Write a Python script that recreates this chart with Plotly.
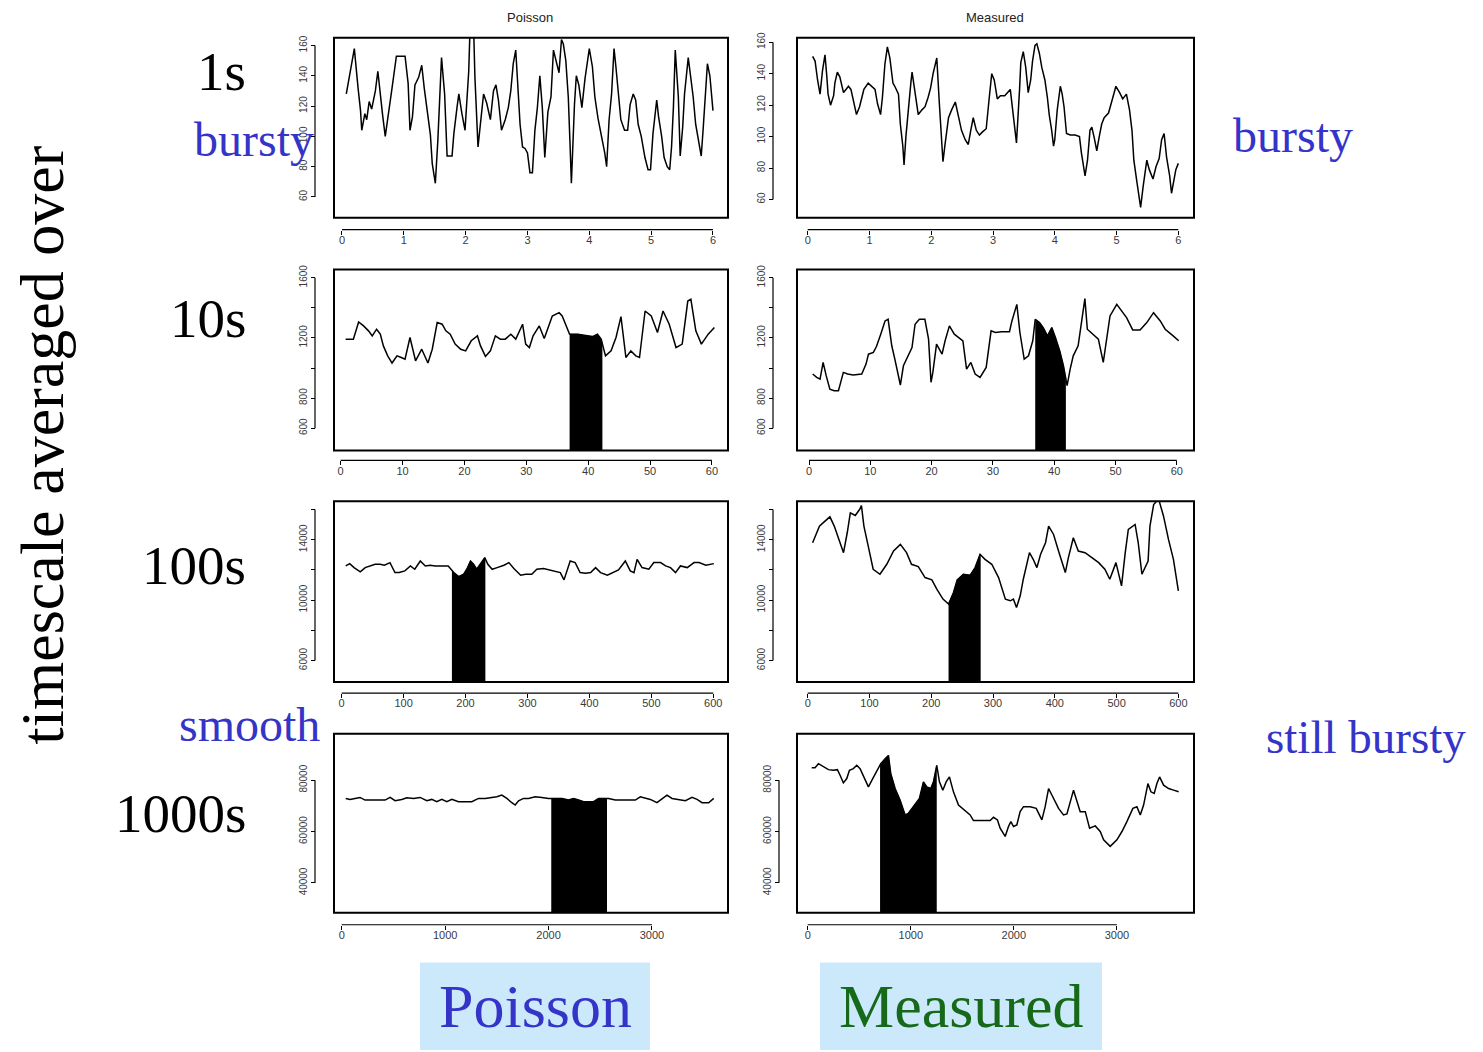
import numpy as np
import plotly.graph_objects as go

# ---------------- data ----------------
# Poisson, 1 s averages
p1_t = [0.07,0.11,0.16,0.20,0.26,0.30,0.32,0.37,0.40,0.44,
        0.48,0.54,0.58,0.62,0.66,0.70,0.74,0.81,0.88,1.02,
        1.07,1.10,1.14,1.18,1.24,1.29,1.33,1.38,1.43,1.46,
        1.51,1.55,1.60,1.61,1.66,1.70,1.78,1.81,1.86,1.89,
        1.94,1.99,2.05,2.07,2.13,2.15,2.20,2.23,2.29,2.34,
        2.40,2.45,2.49,2.53,2.58,2.64,2.69,2.73,2.77,2.81,
        2.84,2.88,2.92,2.96,3.00,3.04,3.08,3.12,3.16,3.20,
        3.24,3.28,3.33,3.38,3.42,3.46,3.51,3.55,3.58,3.62,
        3.66,3.69,3.71,3.76,3.79,3.83,3.88,3.93,3.97,4.00,
        4.05,4.09,4.14,4.20,4.25,4.28,4.32,4.36,4.40,4.43,
        4.47,4.51,4.57,4.62,4.66,4.71,4.75,4.79,4.84,4.90,
        4.95,4.99,5.03,5.09,5.12,5.17,5.21,5.26,5.30,5.33,
        5.36,5.39,5.44,5.47,5.51,5.54,5.60,5.64,5.68,5.72,
        5.77,5.81,5.84,5.87,5.91,5.95,6.00]
p1_v = [128,137,148,158,132,117,104,115,111,123,
        118,130,143,127,113,100,111,132,153,153,
        135,104,113,134,139,147,132,117,101,82,
        69,97,139,152,128,87,87,102,119,128,
        115,104,143,170,170,139,93,104,128,122,
        111,130,134,124,104,111,119,130,148,157,
        139,108,93,92,89,76,76,104,119,140,
        119,86,116,126,157,151,142,164,161,150,
        126,93,69,121,140,134,119,138,150,158,
        146,126,112,100,89,80,111,128,158,146,
        130,111,104,104,121,128,124,108,100,86,
        78,78,102,124,113,100,86,80,78,93,
        119,157,126,87,106,128,152,139,126,108,
        97,87,104,124,148,140,117]

# Measured, 1 s averages
m1_t = [0.08,0.12,0.16,0.20,0.24,0.28,0.31,0.33,0.37,0.42,
        0.44,0.48,0.52,0.58,0.62,0.66,0.70,0.74,0.79,0.84,
        0.88,0.91,0.98,1.04,1.09,1.13,1.18,1.21,1.25,1.29,
        1.33,1.38,1.41,1.47,1.50,1.54,1.56,1.59,1.63,1.67,
        1.69,1.74,1.79,1.85,1.90,1.95,1.99,2.03,2.09,2.13,
        2.16,2.19,2.22,2.28,2.33,2.39,2.44,2.49,2.55,2.60,
        2.64,2.68,2.73,2.78,2.83,2.89,2.94,2.98,3.02,3.07,
        3.12,3.19,3.28,3.32,3.36,3.38,3.43,3.45,3.49,3.53,
        3.57,3.61,3.64,3.68,3.71,3.75,3.79,3.84,3.88,3.91,
        3.95,3.98,4.00,4.04,4.09,4.12,4.15,4.19,4.25,4.33,
        4.40,4.43,4.49,4.53,4.57,4.60,4.64,4.68,4.72,4.76,
        4.80,4.87,4.92,4.99,5.05,5.10,5.16,5.21,5.25,5.28,
        5.33,5.37,5.39,5.43,5.49,5.53,5.59,5.64,5.69,5.73,
        5.77,5.81,5.86,5.89,5.92,5.96,6.00]
m1_v = [151,148,136,127,142,152,138,127,120,126,
        134,141,138,128,130,132,130,122,114,119,
        125,130,134,132,130,121,114,125,146,157,
        150,134,132,127,108,94,82,100,119,134,
        141,127,114,117,119,125,131,140,150,122,
        102,84,94,112,117,122,113,104,98,95,
        104,112,104,101,103,105,125,140,136,124,
        126,126,130,115,100,96,130,147,154,144,
        128,136,148,158,159,153,144,136,125,114,
        104,94,98,117,132,127,119,102,101,101,
        100,90,75,85,104,106,99,91,100,108,
        112,115,122,132,128,124,127,117,104,85,
        71,60,55,68,85,79,73,81,86,98,
        102,87,75,64,71,79,83]

# Poisson, 10 s averages
p10_t = [0.8,2.05,2.9,3.7,4.5,5.1,5.8,6.4,6.9,7.6,
         8.3,9.1,9.8,10.4,11.2,12.1,13.1,14.1,14.8,15.6,
         16.4,17.0,17.7,18.5,19.4,20.2,21.1,22.1,22.6,23.4,
         24.2,25.0,25.8,26.6,27.5,28.3,29.4,29.9,30.5,31.1,
         32.1,32.9,34.2,35.3,35.8,37.0,38.3,39.6,40.7,41.5,
         42.1,42.8,43.7,44.5,45.3,46.1,46.9,47.7,48.3,49.2,
         50.2,51.2,52.1,53.1,54.2,55.2,56.1,56.6,57.4,58.3,
         59.4,60.4]
p10_v = [1192,1192,1306,1280,1247,1214,1258,1225,1147,1081,
         1033,1081,1070,1059,1203,1048,1125,1033,1125,1302,
         1291,1247,1225,1159,1125,1114,1181,1214,1147,1077,
         1114,1214,1192,1192,1225,1192,1291,1159,1136,1214,
         1280,1196,1346,1368,1346,1225,1225,1214,1209,1225,
         1192,1081,1114,1203,1342,1070,1114,1081,1070,1379,
         1346,1236,1379,1291,1136,1159,1445,1457,1247,1159,
         1225,1269]

# Measured, 10 s averages
m10_t = [0.6,1.25,1.8,2.3,2.8,3.4,4.1,4.8,5.6,6.3,
         7.2,8.6,9.3,9.7,10.5,11.0,11.7,12.4,12.9,13.5,
         14.0,14.9,15.4,15.9,16.8,17.3,18.0,18.9,19.5,19.9,
         20.2,20.8,21.1,21.7,22.2,22.9,23.7,24.5,25.1,25.7,
         26.4,27.1,27.9,28.9,29.7,30.4,31.4,32.7,33.1,33.9,
         34.4,35.1,35.8,36.5,36.9,37.6,38.2,38.9,39.6,40.2,
         40.9,41.5,42.1,42.6,43.1,43.9,44.7,45.0,45.4,46.3,
         47.2,48.0,48.7,49.1,50.2,51.0,51.8,52.8,54.0,55.1,
         56.2,57.3,58.1,59.4,60.3]
m10_v = [960,938,926,1037,949,860,849,849,971,960,
         954,960,1026,1092,1104,1143,1225,1313,1324,1148,
         1059,887,1015,1059,1136,1291,1324,1324,1192,905,
         971,1159,1136,1092,1181,1280,1225,1203,1181,993,
         1037,960,938,1004,1247,1236,1241,1241,1313,1423,
         1236,1059,1081,1181,1324,1302,1269,1214,1269,1203,
         1114,1015,883,993,1081,1148,1368,1461,1258,1225,
         1192,1037,1214,1346,1423,1379,1335,1253,1253,1302,
         1368,1313,1258,1214,1181]

# Poisson, 100 s averages
p100_t = [6.5,13,20,30,38,46,54,62,69,78,
          86,93,102,111,118,127,135,143,151,162,
          172,181,189,197,202,208,213,218,224,231,
          236,243,251,262,270,278,289,297,307,315,
          326,337,345,353,359,364,369,377,385,394,
          402,410,418,429,439,447,458,466,472,477,
          485,496,504,515,523,531,539,547,558,569,
          577,588,601]
p100_v = [12264,12418,12154,11868,12154,12264,12374,12374,12308,12484,
          11824,11824,11934,12264,12044,12593,12264,12308,12264,12264,
          12264,11824,11560,11714,12044,12593,12374,12044,12374,12813,
          12374,12044,12154,12308,12484,12088,11648,11714,11714,12044,
          12088,12000,11934,11824,11341,11934,12593,12484,11824,11780,
          11824,12154,11824,11648,11824,12000,12593,11934,11824,12703,
          12154,12044,12484,12484,12264,12154,11824,12264,12154,12484,
          12484,12308,12418]

# Measured, 100 s averages
m100_t = [8,13.5,19,28,36,43,51,58,64,69,
          77,84,87,91,98,106,117,128,139,150,
          160,168,179,190,201,209,219,228,236,242,
          252,263,271,279,287,298,309,320,328,333,
          338,344,349,359,365,371,377,385,390,398,
          406,417,422,430,438,449,460,471,481,489,
          499,508,514,519,530,535,541,551,554,560,
          568,576,584,592,600]
m100_v = [13802,14351,14901,15231,15516,14901,13912,13143,14461,15780,
          15604,15999,16264,14901,13582,12044,11714,12374,13253,13692,
          13143,12374,12220,11494,11340,10725,10066,9736,10505,11340,
          11714,11648,12154,13033,12703,12374,11494,10066,9956,10066,
          9516,10286,11384,13143,12703,12154,13033,13802,14901,14351,
          13253,11824,12813,14132,13253,13143,12813,12484,12044,11384,
          12484,10945,13143,14681,15011,13802,11714,12593,14901,16330,
          16700,15560,14021,12703,10615]

# Poisson, 1000 s averages
p1000_t = [39,81,129,177,226,323,419,468,516,581,
           629,694,758,823,871,919,968,1016,1065,1129,
           1194,1258,1323,1387,1452,1500,1548,1597,1645,1677,
           1710,1758,1806,1871,1935,2000,2065,2129,2194,2242,
           2290,2339,2387,2435,2484,2532,2581,2645,2710,2774,
           2839,2887,2935,2984,3048,3097,3145,3194,3258,3323,
           3387,3436,3484,3548,3597]
p1000_v = [72900,72520,72900,73290,72260,72260,72260,73290,72000,72520,
           73160,72900,73290,72000,72520,71610,72520,71610,72520,71610,
           71610,71610,72900,72900,73290,73550,74200,72900,71230,70320,
           72000,72900,72900,73550,73290,72900,72900,72900,72260,72900,
           72260,71610,71610,71610,72900,72900,72900,72260,72260,72260,
           72260,73550,72900,72520,71230,72900,74200,72900,72520,72000,
           73290,72520,71230,71230,72900]

# Measured, 1000 s averages
m1000_t = [39,71,104,152,201,249,288,314,346,379,
           405,443,476,508,547,589,631,670,709,751,
           783,806,848,896,945,977,1026,1084,1123,1155,
           1194,1220,1252,1278,1311,1343,1375,1414,1463,1518,
           1576,1608,1673,1770,1803,1841,1867,1916,1948,1971,
           1997,2029,2061,2094,2159,2217,2272,2304,2337,2385,
           2434,2482,2515,2579,2612,2644,2693,2735,2790,2838,
           2871,2935,3000,3049,3097,3155,3194,3227,3259,3301,
           3330,3362,3388,3414,3453,3502,3550,3599]
m1000_v = [84900,84900,86450,85420,84130,83870,84130,81940,78970,80650,
           83870,84520,85810,84520,81290,77420,80650,83870,86450,88390,
           89680,82580,76770,72260,66450,67100,69680,72900,79360,77420,
           76770,79360,85810,79360,76130,79360,81290,75480,70320,68390,
           66450,64260,64260,64260,65550,64520,61290,58070,61940,63870,
           61940,62580,67750,69680,69680,69030,64520,69680,76770,72900,
           69030,66450,66840,76130,71610,67750,67750,61290,62190,60000,
           56780,54200,56780,60000,63870,69030,69680,66450,70320,78710,
           75480,74840,78710,81290,78070,76770,76130,75480]

# shaded intervals (x from, x to)
p10_shade = [37.0, 42.3]
m10_shade = [36.9, 41.9]
p100_shade = [178, 232]
m100_shade = [228, 280]
p1000_shade = [2026, 2565]
m1000_shade = [702, 1252]
no_shade = None

# tick values / labels
x1_ticks = [0, 1, 2, 3, 4, 5, 6]
x10_ticks = [0, 10, 20, 30, 40, 50, 60]
x100_ticks = [0, 100, 200, 300, 400, 500, 600]
x1000_ticks = [0, 1000, 2000, 3000]
y1_ticks = [60, 80, 100, 120, 140, 160]
y1_text = ["60", "80", "100", "120", "140", "160"]
y10_ticks = [600, 800, 1000, 1200, 1400, 1600]
y10_text = ["600", "800", "", "1200", "", "1600"]
y100_ticks = [6000, 8000, 10000, 12000, 14000, 16000]
y100_text = ["6000", "", "10000", "", "14000", ""]
y1000_ticks = [40000, 60000, 80000]
y1000_text = ["40000", "60000", "80000"]

col_titles = ["Poisson", "Measured"]
row_labels = ["1s", "10s", "100s", "1000s"]

# ---------------- layout geometry (pixels) ----------------
W, H = 1483, 1052
def fx(p):
    return p / W
def fy(p):
    return 1 - p / H

cols = [dict(left=334, right=728), dict(left=797, right=1194)]
rows = [dict(top=32, bottom=213, xline=225),
        dict(top=265, bottom=447, xline=457),
        dict(top=498, bottom=680, xline=691),
        dict(top=732, bottom=912, xline=924)]

panels = [
    dict(t=p1_t, v=p1_v, sh=no_shade, r=0, c=0, xr=[-0.129, 6.243], yr=[46.2, 165.1],
         xt=x1_ticks, yt=y1_ticks, ytx=y1_text, yline=315),
    dict(t=m1_t, v=m1_v, sh=no_shade, r=0, c=1, xr=[-0.173, 6.254], yr=[48.4, 162.8],
         xt=x1_ticks, yt=y1_ticks, ytx=y1_text, yline=773),
    dict(t=p10_t, v=p10_v, sh=p10_shade, r=1, c=0, xr=[-1.08, 62.6], yr=[452, 1655],
         xt=x10_ticks, yt=y10_ticks, ytx=y10_text, yline=315),
    dict(t=m10_t, v=m10_v, sh=m10_shade, r=1, c=1, xr=[-1.96, 62.8], yr=[452, 1655],
         xt=x10_ticks, yt=y10_ticks, ytx=y10_text, yline=773),
    dict(t=p100_t, v=p100_v, sh=p100_shade, r=2, c=0, xr=[-12.4, 623.8], yr=[4570, 16554],
         xt=x100_ticks, yt=y100_ticks, ytx=y100_text, yline=315),
    dict(t=m100_t, v=m100_v, sh=m100_shade, r=2, c=1, xr=[-17.3, 625.3], yr=[4570, 16554],
         xt=x100_ticks, yt=y100_ticks, ytx=y100_text, yline=773),
    dict(t=p1000_t, v=p1000_v, sh=p1000_shade, r=3, c=0, xr=[-74.5, 3735], yr=[28390, 98040],
         xt=x1000_ticks, yt=y1000_ticks, ytx=y1000_text, yline=315),
    dict(t=m1000_t, v=m1000_v, sh=m1000_shade, r=3, c=1, xr=[-103.9, 3748], yr=[28300, 98100],
         xt=x1000_ticks, yt=y1000_ticks, ytx=y1000_text, yline=779),
]

SERIF = "Liberation Serif, Times New Roman, serif"
SANS = "Liberation Sans, Arial, sans-serif"
BLUE = "#3434c8"
GREEN = "#17691a"
xtickfont = dict(family=SANS, size=11, color="#3a3a3a")
ytickfont = dict(family=SANS, size=10, color="#3a3a3a")

fig = go.Figure()
shapes = []
layout_axes = {}

for i, p in enumerate(panels, start=1):
    c = cols[p["c"]]
    r = rows[p["r"]]
    xn = "x" if i == 1 else f"x{i}"
    yn = "y" if i == 1 else f"y{i}"
    xk = "xaxis" if i == 1 else f"xaxis{i}"
    yk = "yaxis" if i == 1 else f"yaxis{i}"

    t = np.array(p["t"], dtype=float)
    v = np.array(p["v"], dtype=float)

    if p["sh"] is not None:
        a, b = p["sh"]
        inner = t[(t > a) & (t < b)]
        xs = np.concatenate([[a], inner, [b]])
        ys = np.interp(xs, t, v)
        fig.add_trace(go.Scatter(x=xs, y=ys, mode="lines", fill="tozeroy",
                                 fillcolor="black", line=dict(color="black", width=0.5),
                                 xaxis=xn, yaxis=yn, hoverinfo="skip"))

    fig.add_trace(go.Scatter(x=t, y=v, mode="lines",
                             line=dict(color="black", width=1.5),
                             xaxis=xn, yaxis=yn))

    layout_axes[xk] = dict(
        domain=[fx(c["left"]), fx(c["right"])], range=p["xr"],
        anchor="free", position=fy(r["xline"]), side="bottom",
        tickmode="array", tickvals=p["xt"], ticktext=[str(x) for x in p["xt"]],
        ticks="outside", ticklen=4, tickwidth=1, tickcolor="black",
        ticklabelstandoff=-4,
        showline=False, showgrid=False, zeroline=False,
        tickfont=xtickfont, fixedrange=True)
    layout_axes[yk] = dict(
        domain=[fy(r["bottom"]), fy(r["top"])], range=p["yr"],
        anchor="free", position=fx(p["yline"]), side="left",
        tickmode="array", tickvals=p["yt"], ticktext=p["ytx"], tickangle=-90,
        ticks="outside", ticklen=4, tickwidth=1, tickcolor="black",
        showline=False, showgrid=False, zeroline=False,
        tickfont=ytickfont, fixedrange=True)

    # plot frame
    shapes.append(dict(type="rect", xref=f"{xn} domain", yref=f"{yn} domain",
                       x0=0, x1=1, y0=0, y1=1, line=dict(color="black", width=2),
                       layer="above"))
    # R style detached axis lines (first to last tick)
    shapes.append(dict(type="line", xref=xn, yref="paper",
                       x0=p["xt"][0], x1=p["xt"][-1],
                       y0=fy(r["xline"]), y1=fy(r["xline"]),
                       line=dict(color="black", width=1.2)))
    shapes.append(dict(type="line", xref="paper", yref=yn,
                       x0=fx(p["yline"]), x1=fx(p["yline"]),
                       y0=p["yt"][0], y1=p["yt"][-1],
                       line=dict(color="black", width=1.2)))

# bottom label boxes
shapes.append(dict(type="rect", xref="paper", yref="paper", x0=fx(420), x1=fx(650),
                   y0=fy(1050), y1=fy(962), fillcolor="#cce9fb", line=dict(width=0),
                   layer="below"))
shapes.append(dict(type="rect", xref="paper", yref="paper", x0=fx(820), x1=fx(1102),
                   y0=fy(1050), y1=fy(962), fillcolor="#cce9fb", line=dict(width=0),
                   layer="below"))


def note(text, x, y, size, color, family, xanchor="center", angle=0):
    return dict(text=text, x=fx(x), y=fy(y), xref="paper", yref="paper",
                xanchor=xanchor, yanchor="middle", textangle=angle, showarrow=False,
                font=dict(family=family, size=size, color=color))


ann = []
# small column titles
ann.append(note(col_titles[0], 530, 12, 13, "#222", SANS))
ann.append(note(col_titles[1], 995, 12, 13, "#222", SANS))
# row labels
row_y = [66, 314, 563, 812]
for lab, yy in zip(row_labels, row_y):
    ann.append(note(lab, 248, yy, 55, "black", SERIF, xanchor="right"))
# vertical title
ann.append(note("timescale averaged over", 42, 442, 62, "black", SERIF, angle=-90))
# blue comments
ann.append(note("bursty", 192, 134, 48, BLUE, SERIF, xanchor="left"))
ann.append(note("bursty", 1231, 130, 48, BLUE, SERIF, xanchor="left"))
ann.append(note("smooth", 177, 723, 48, BLUE, SERIF, xanchor="left"))
ann.append(note("still bursty", 1264, 735, 47, BLUE, SERIF, xanchor="left"))
# bottom labels
ann.append(note("Poisson", 535, 1006, 62, BLUE, SERIF))
ann.append(note("Measured", 961, 1006, 62, GREEN, SERIF))

fig.update_layout(
    width=W, height=H, margin=dict(l=0, r=0, t=0, b=0),
    paper_bgcolor="white", plot_bgcolor="white", showlegend=False,
    shapes=shapes, annotations=ann, **layout_axes)

fig.write_html("out.html")
